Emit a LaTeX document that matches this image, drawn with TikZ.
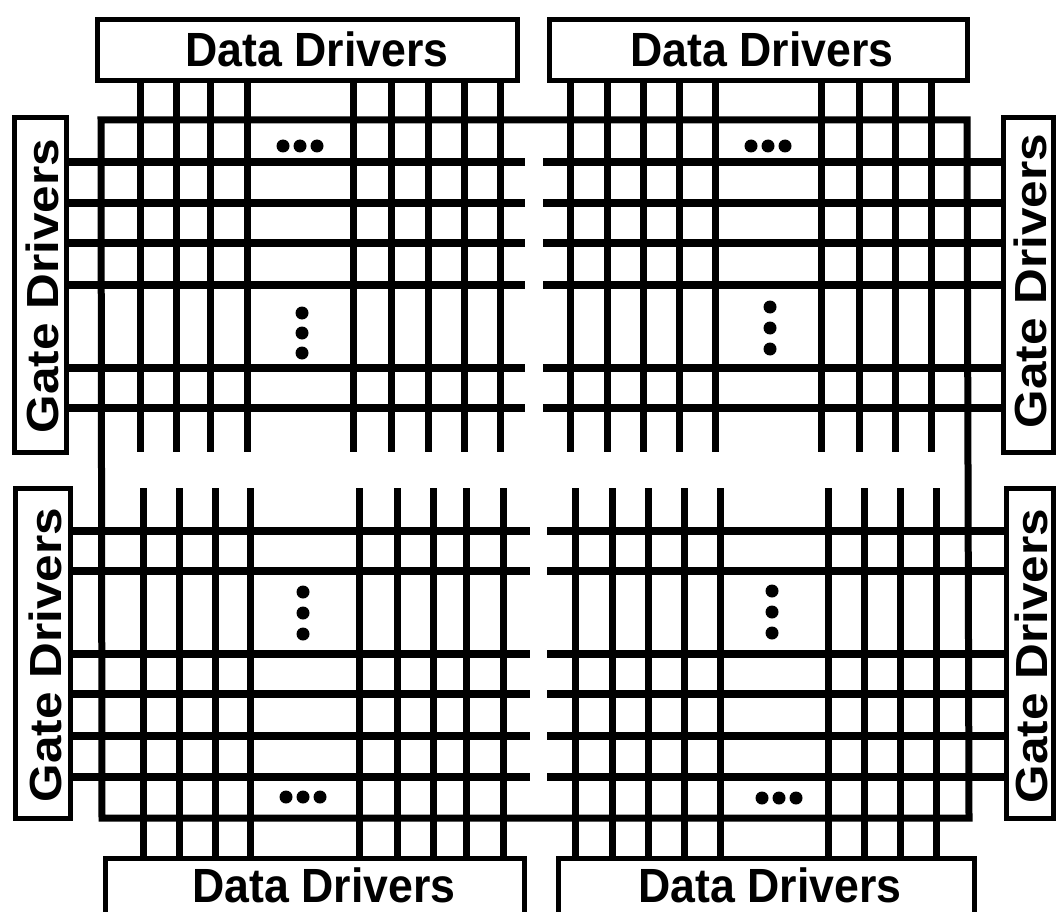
\documentclass[tikz,border=0pt]{standalone}
\usepackage{fontspec}
\setmainfont{Liberation Sans}
\begin{document}
\begin{tikzpicture}[x=1pt,y=-1pt,
  drvbox/.style={draw, line width=5pt, inner sep=0pt},
  dtext/.style={font=\bfseries\fontsize{48}{48}\selectfont, xscale=0.93, inner sep=0pt, text height=34pt, text depth=0pt},
  gtext/.style={font=\bfseries\fontsize{45}{45}\selectfont, rotate=90, xscale=1.1, inner sep=0pt, text height=32pt, text depth=0pt},
  hline/.style={line width=8pt},
  vline/.style={line width=7pt},
  frameline/.style={line width=7pt},
  dotr/.style={radius=6.5pt}
]
\useasboundingbox (0,0) rectangle (1057,912);
\clip (0,0) rectangle (1057,912);

% data driver boxes
\node[drvbox, minimum width=420pt, minimum height=61pt] (dd1) at (307,50) {};
\node[dtext] (tdd1) at (317,50) {Data Drivers};
\node[drvbox, minimum width=418pt, minimum height=61pt] (dd2) at (758,50) {};
\node[dtext] (tdd2) at (762,50) {Data Drivers};
\node[drvbox, minimum width=419pt, minimum height=60pt] (dd3) at (314.5,888) {};
\node[dtext] (tdd3) at (324,885) {Data Drivers};
\node[drvbox, minimum width=416pt, minimum height=60pt] (dd4) at (766,888) {};
\node[dtext] (tdd4) at (770,885) {Data Drivers};

% gate driver boxes
\node[drvbox, minimum width=52pt, minimum height=334pt] (gd1) at (40,285) {};
\node[gtext] (tgd1) at (42,286) {Gate Drivers};
\node[drvbox, minimum width=55pt, minimum height=330pt] (gd2) at (43,653) {};
\node[gtext] (tgd2) at (45,655) {Gate Drivers};
\node[drvbox, minimum width=50pt, minimum height=334pt] (gd3) at (1028,285) {};
\node[gtext] (tgd3) at (1030,281) {Gate Drivers};
\node[drvbox, minimum width=47pt, minimum height=330pt] (gd4) at (1029.5,653) {};
\node[gtext] (tgd4) at (1031,656) {Gate Drivers};

% outer frame
\draw[frameline] (101,120) -- (967,120) -- (969,818) -- (102,818) -- cycle;

% gate lines
\foreach \y in {162,203,243,285,368,408} {
  \draw[hline] (gd1.east |- 0,\y) -- (525,\y);
  \draw[hline] (543,\y) -- (gd3.west |- 0,\y);
}
\foreach \y in {531,571,654,694,736,777} {
  \draw[hline] (gd2.east |- 0,\y) -- (530,\y);
  \draw[hline] (547,\y) -- (gd4.west |- 0,\y);
}

% data lines
\foreach \x in {140,176,210,247,353,391,428,464,500}
  \draw[vline] (\x,0 |- dd1.south) -- (\x,452);
\foreach \x in {570,607,643,679,715,821,859,895,931}
  \draw[vline] (\x,0 |- dd2.south) -- (\x,452);
\foreach \x in {143,179,215,250,359,397,433,466,503}
  \draw[vline] (\x,488) -- (\x,0 |- dd3.north);
\foreach \x in {575,612,648,684,720,828,864,900,936}
  \draw[vline] (\x,488) -- (\x,0 |- dd4.north);

% ellipsis dots
\foreach \x in {283,300,317} \fill (\x,146) circle[dotr];
\foreach \x in {751,768,785} \fill (\x,146) circle[dotr];
\foreach \y in {313,333,353} \fill (302,\y) circle[dotr];
\foreach \y in {307,328,349} \fill (770,\y) circle[dotr];
\foreach \y in {592,613,634} \fill (303,\y) circle[dotr];
\foreach \y in {591,612,633} \fill (772,\y) circle[dotr];
\foreach \x in {286,303,320} \fill (\x,797) circle[dotr];
\foreach \x in {762,779,796} \fill (\x,798) circle[dotr];
\end{tikzpicture}
\end{document}
